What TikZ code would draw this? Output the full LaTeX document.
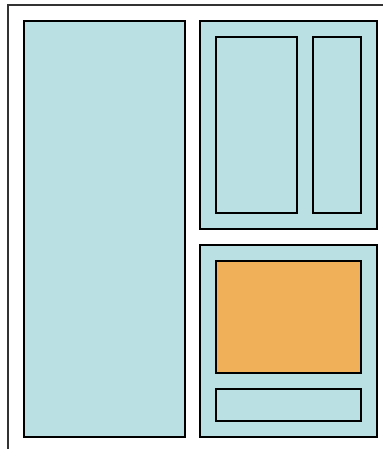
\documentclass[tikz,border=0pt]{standalone}
\definecolor{paleblue}{HTML}{BBE0E3}
\definecolor{orangefill}{HTML}{F0B05A}
\tikzset{
  panel/.style={draw=black, fill=paleblue, line width=1.6pt},
  hot/.style={draw=black, fill=orangefill, line width=1.6pt},
  frameline/.style={draw=black!80, line width=1.6pt}
}
\begin{document}
\begin{tikzpicture}[x=1pt,y=-1pt]
\useasboundingbox (0,0) rectangle (383,449);
\draw[frameline] (8,449) -- (8,5) -- (383,5);
\draw[panel] (24,21) rectangle (185,437);
\draw[panel] (200,21) rectangle (377,229);
\draw[panel] (216,37) rectangle (297,213);
\draw[panel] (313,37) rectangle (361,213);
\draw[panel] (200,245) rectangle (377,437);
\draw[hot] (216,261) rectangle (361,373);
\draw[panel] (216,389) rectangle (361,421);
\end{tikzpicture}
\end{document}
